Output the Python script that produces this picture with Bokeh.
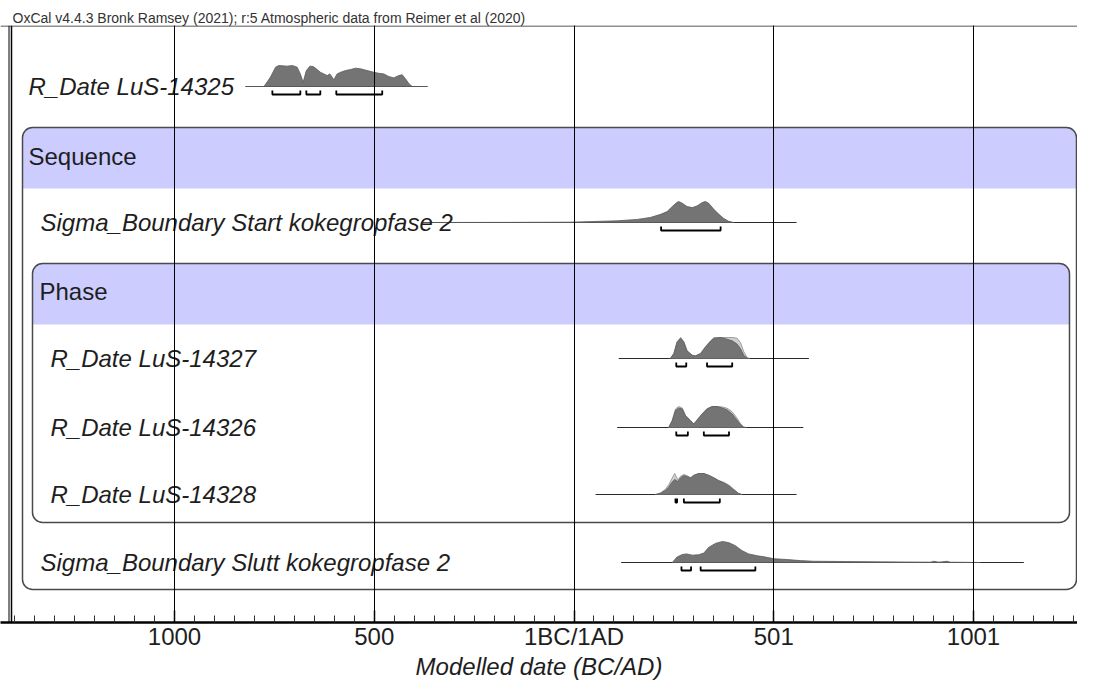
from bokeh.plotting import figure
from bokeh.models import Range1d, FixedTicker, Span
from bokeh.embed import file_html
from bokeh.resources import INLINE
from bokeh.core.properties import value

FONT = "Liberation Sans"

# ---------------- data (calendar years, BC negative; relative probability) ----------------
HEADER = "OxCal v4.4.3 Bronk Ramsey (2021); r:5 Atmospheric data from Reimer et al (2020)"
AXIS_TITLE = "Modelled date (BC/AD)"
TICK_POS = [-999, -499, 1, 501, 1001]
TICK_LABELS = ["1000", "500", "1BC/1AD", "501", "1001"]

r14325_years = [-821, -775, -759, -746, -738, -717, -704, -692, -684, -677, -669, -660, -652,
                -644, -634, -625, -617, -610, -600, -592, -583, -571, -558, -546, -533, -517,
                -500, -488, -475, -463, -450, -438, -429, -421, -412, -404, -366]
r14325_prob = [0, 0, 0.44, 0.92, 1.0, 0.97, 1.0, 0.92, 0.60, 0.20, 0.76, 0.97, 0.95,
               0.84, 0.68, 0.60, 0.52, 0.60, 0.32, 0.60, 0.68, 0.76, 0.81, 0.87, 0.84, 0.76,
               0.68, 0.63, 0.60, 0.48, 0.41, 0.52, 0.56, 0.37, 0.13, 0, 0]
r14325_range = [-821, -366]
r14325_hpd = [[-754, -684], [-669, -634], [-594, -479]]

start_years = [-380, -183, -8, 109, 159, 192, 218, 234, 247, 258, 263, 272, 284, 297, 309,
               322, 330, 338, 351, 363, 376, 388, 401]
start_prob = [0, 0.005, 0.015, 0.08, 0.145, 0.24, 0.39, 0.52, 0.76, 0.95, 1.0, 0.92, 0.76,
              0.71, 0.79, 0.95, 1.0, 0.92, 0.63, 0.40, 0.19, 0.06, 0]
start_range = [-380, 558]
start_hpd = [[219, 368]]

r14327_years = [242, 251, 259, 268, 276, 284, 297, 305, 318, 330, 343, 351, 368, 384, 397,
                409, 418, 426, 435, 441]
r14327_post = [0, 0.23, 0.77, 0.97, 0.77, 0.35, 0.15, 0.12, 0.23, 0.54, 0.82, 0.97, 1.0, 0.92,
               0.84, 0.69, 0.46, 0.15, 0, 0]
r14327_prior = [0, 0.25, 0.80, 1.0, 0.80, 0.38, 0.16, 0.13, 0.25, 0.56, 0.85, 0.98, 1.0, 1.0,
                1.0, 0.97, 0.75, 0.32, 0.04, 0]
r14327_range = [113, 589]
r14327_hpd = [[257, 282], [334, 397]]

r14326_years = [238, 247, 255, 263, 272, 280, 293, 301, 309, 322, 334, 347, 359, 372, 384,
                397, 409, 418, 426, 432]
r14326_post = [0, 0.32, 0.81, 0.93, 0.88, 0.56, 0.32, 0.16, 0.35, 0.64, 0.88, 1.0, 1.0, 0.93,
               0.84, 0.64, 0.35, 0.13, 0, 0]
r14326_prior = [0, 0.35, 0.88, 1.0, 0.93, 0.58, 0.33, 0.17, 0.36, 0.66, 0.90, 1.0, 1.0, 0.98,
                0.92, 0.75, 0.45, 0.18, 0.03, 0]
r14326_range = [109, 575]
r14326_hpd = [[257, 286], [326, 389]]

r14328_years = [205, 218, 230, 238, 247, 253, 261, 268, 276, 284, 293, 301, 313, 326, 338,
                351, 363, 376, 388, 401, 413, 421]
r14328_post = [0, 0.06, 0.20, 0.35, 0.60, 0.72, 0.62, 0.80, 0.90, 0.85, 0.80, 0.92, 1.0, 1.0,
               0.92, 0.80, 0.66, 0.55, 0.42, 0.22, 0.05, 0]
r14328_prior = [0, 0.08, 0.25, 0.46, 0.79, 1.0, 0.70, 0.87, 0.95, 0.90, 0.79, 0.90, 1.0, 1.0,
                0.90, 0.79, 0.67, 0.58, 0.46, 0.25, 0.05, 0]
r14328_range = [55, 558]
r14328_hpd = [[255, 259], [276, 366]]

slutt_years = [247, 259, 272, 283, 297, 313, 326, 338, 355, 372, 388, 405, 421, 438, 460,
               480, 501, 535, 568, 601, 685, 768, 893, 902, 914, 935, 943, 1018]
slutt_prob = [0, 0.26, 0.38, 0.41, 0.35, 0.37, 0.45, 0.72, 0.91, 1.0, 0.95, 0.80, 0.57, 0.41,
              0.32, 0.26, 0.18, 0.14, 0.09, 0.06, 0.045, 0.03, 0.015, 0.06, 0.015, 0.06, 0.015, 0]
slutt_range = [119, 1127]
slutt_hpd = [[270, 294], [318, 455]]

# ---------------- layout ----------------
W, H = 1077, 682
PXY = 0.3995                  # pixels per year
X_START = -999 - 174 / PXY    # frame left edge (figure x = 0)
X_END = X_START + W / PXY
Y_TOP, Y_BOT = 25, 622        # frame top / bottom in vertical layout units (pixels)
PEAK = 21


def xw(px):
    return X_START + px / PXY


p = figure(width=W, height=H, output_backend="svg", toolbar_location=None,
           x_range=Range1d(X_START, X_END), y_range=Range1d(Y_BOT, Y_TOP),
           y_axis_location=None, min_border_left=0, min_border_right=0,
           min_border_top=Y_TOP, min_border_bottom=H - Y_BOT)
p.outline_line_color = None
p.background_fill_color = "white"
p.border_fill_color = "white"
p.ygrid.visible = False

p.title.text = HEADER
p.title.text_font = FONT
p.title.text_font_size = "14px"
p.title.text_font_style = "normal"
p.title.text_color = "#333333"
p.title.align = "left"
p.title.offset = 12
p.title.standoff = 0

# boxes
SEQ_L, SEQ_R, PH_L, PH_R = xw(22), xw(1076), xw(32), xw(1069)
p.quad(left=SEQ_L, right=SEQ_R, top=127, bottom=188, fill_color="#ccccff",
       line_color=None, border_radius=(10, 10, 0, 0))
p.quad(left=PH_L, right=PH_R, top=263, bottom=324, fill_color="#ccccff",
       line_color=None, border_radius=(10, 10, 0, 0))
p.quad(left=SEQ_L, right=SEQ_R, top=127, bottom=589, fill_color=None,
       line_color="#4a4a4a", line_width=1.5, border_radius=10)
p.quad(left=PH_L, right=PH_R, top=263, bottom=522, fill_color=None,
       line_color="#4a4a4a", line_width=1.5, border_radius=10)


def draw_dist(years, prob, base, fill, line):
    xs = [years[0]] + list(years) + [years[-1]]
    ys = [base] + [base - PEAK * v for v in prob] + [base]
    p.patch(xs, ys, fill_color=fill, line_color=line, line_width=0.8)


def draw_row(base, rng, hpd, dists):
    p.line(rng, [base, base], line_color="#2a2a2a", line_width=1)
    for years, prob, fill, line in dists:
        draw_dist(years, prob, base, fill, line)
    yb = base + 8
    p.multi_line(xs=[[a, a, b, b] for a, b in hpd],
                 ys=[[yb - 4, yb, yb, yb - 4] for _ in hpd],
                 line_color="black", line_width=1.8)


DARK, DARK_L = "#747474", "#5a5a5a"
LIGHT, LIGHT_L = "#cfcfcf", "#8c8c8c"

draw_row(86, r14325_range, r14325_hpd, [(r14325_years, r14325_prob, DARK, DARK_L)])
draw_row(222, start_range, start_hpd, [(start_years, start_prob, DARK, DARK_L)])
draw_row(358, r14327_range, r14327_hpd, [(r14327_years, r14327_prior, LIGHT, LIGHT_L),
                                         (r14327_years, r14327_post, DARK, DARK_L)])
draw_row(427, r14326_range, r14326_hpd, [(r14326_years, r14326_prior, LIGHT, LIGHT_L),
                                         (r14326_years, r14326_post, DARK, DARK_L)])
draw_row(494, r14328_range, r14328_hpd, [(r14328_years, r14328_prior, LIGHT, LIGHT_L),
                                         (r14328_years, r14328_post, DARK, DARK_L)])
draw_row(562, slutt_range, slutt_hpd, [(slutt_years, slutt_prob, DARK, DARK_L)])

# labels
ital_text = ["R_Date LuS-14325", "Sigma_Boundary Start kokegropfase 2", "R_Date LuS-14327",
             "R_Date LuS-14326", "R_Date LuS-14328", "Sigma_Boundary Slutt kokegropfase 2"]
ital_x = [xw(28), xw(40), xw(50), xw(50), xw(50), xw(40)]
ital_y = [86, 222, 358, 427, 494, 562]
p.text(x=ital_x, y=ital_y, text=ital_text, text_font=value(FONT), text_font_size="24px",
       text_font_style="italic", text_baseline="middle", text_color="#1e1e1e")
p.text(x=[xw(28), xw(39)], y=[156, 291], text=["Sequence", "Phase"], text_font=value(FONT),
       text_font_size="24px", text_baseline="middle", text_color="#1e1e1e")

# frame lines
p.add_layout(Span(location=xw(8.5), dimension="height", line_color="black", line_width=1))
p.add_layout(Span(location=xw(11), dimension="height", line_color="black", line_width=1.5))
p.add_layout(Span(location=25.5, dimension="width", line_color="#222222", line_width=1))

# axis
minor = [v for v in range(-999 - 50 * 9, 1300, 50) if X_START < v < X_END]
ax = p.xaxis[0]
ax.ticker = FixedTicker(ticks=TICK_POS, minor_ticks=minor)
ax.major_label_overrides = {k: v for k, v in zip(TICK_POS, TICK_LABELS)}
ax.major_label_text_font = FONT
ax.major_label_text_font_size = "24px"
ax.major_label_text_color = "#1e1e1e"
ax.major_label_standoff = 0
ax.axis_line_width = 2.5
ax.axis_line_color = "black"
ax.major_tick_in = 12
ax.major_tick_out = 0
ax.major_tick_line_width = 1.5
ax.minor_tick_in = 7
ax.minor_tick_out = 0
ax.minor_tick_line_color = "#333333"
ax.axis_label = AXIS_TITLE
ax.axis_label_text_font = FONT
ax.axis_label_text_font_size = "24px"
ax.axis_label_text_font_style = "italic"
ax.axis_label_text_color = "#1e1e1e"
ax.axis_label_standoff = 0

p.xgrid.ticker = FixedTicker(ticks=TICK_POS)
p.xgrid.grid_line_color = "black"
p.xgrid.grid_line_width = 1
p.xgrid.level = "overlay"

open("out.html", "w").write(file_html(p, INLINE))
